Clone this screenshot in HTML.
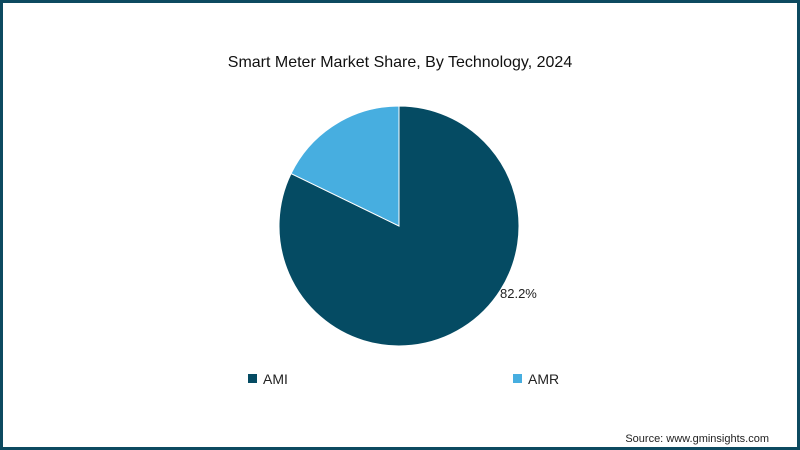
<!DOCTYPE html>
<html><head><meta charset="utf-8"><style>
html,body{margin:0;padding:0;}
body{width:800px;height:450px;overflow:hidden;font-family:"Liberation Sans",sans-serif;}
#frame{position:absolute;left:0;top:0;width:794px;height:444px;border:3px solid #0d4a60;background:#fff;}
</style></head><body>
<div id="frame"></div>
<svg id="chart" width="800" height="450" style="position:absolute;left:0;top:0">
<text x="400" y="67" text-anchor="middle" font-size="16" fill="#111">Smart Meter Market Share, By Technology, 2024</text>
<g id="slices"></g>
<text x="500" y="298" font-size="13" fill="#222">82.2%</text>
<rect x="248" y="374" width="9" height="9" fill="#054b63"/>
<text x="263" y="384" font-size="14" fill="#222">AMI</text>
<rect x="513" y="374" width="9" height="9" fill="#47aee0"/>
<text x="528" y="384" font-size="14" fill="#222">AMR</text>
<text x="769" y="442" text-anchor="end" font-size="11" fill="#222">Source: www.gminsights.com</text>
</svg>
<script>
const categories = ["AMI","AMR"];
const values = [82.2,17.8];
const colors = ["#054b63","#47aee0"];
const cx=399, cy=226, r=120;
const g=document.getElementById('slices');
const total=values.reduce((a,b)=>a+b,0);
let a0=0;
values.forEach((v,i)=>{
  const a1=a0+v/total*2*Math.PI;
  const x0=cx+r*Math.sin(a0), y0=cy-r*Math.cos(a0);
  const x1=cx+r*Math.sin(a1), y1=cy-r*Math.cos(a1);
  const large=(a1-a0)>Math.PI?1:0;
  const p=document.createElementNS('http://www.w3.org/2000/svg','path');
  p.setAttribute('d',`M${cx},${cy}L${x0},${y0}A${r},${r} 0 ${large} 1 ${x1},${y1}Z`);
  p.setAttribute('fill',colors[i]);
  p.setAttribute('stroke','#fff');
  p.setAttribute('stroke-width','1');
  
  
  g.appendChild(p);
  a0=a1;
});
</script>
</body></html>
